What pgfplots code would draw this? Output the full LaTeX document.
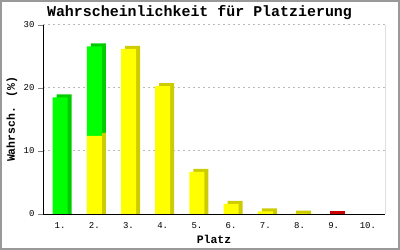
\documentclass[border=0pt]{standalone}
\usepackage{pgfplots}
\pgfplotsset{compat=1.18}
\usepackage{pgfplotstable}
\usepackage{fontspec}
\setmainfont{Liberation Mono}
\definecolor{gfront}{HTML}{00FF00}
\definecolor{gside}{HTML}{00CC00}
\definecolor{yfront}{HTML}{FFFF00}
\definecolor{yside}{HTML}{CCCC00}
\definecolor{rfront}{HTML}{FF0000}
\definecolor{rside}{HTML}{CC0000}
\definecolor{frame}{HTML}{999999}
\definecolor{gridc}{HTML}{BBBBBB}
% green: total height of bars whose top part is green
\pgfplotstableread{
x v
1 18.5
2 26.6
}\greentab
% yellow part
\pgfplotstableread{
x v
2 12.4
3 26.2
4 20.3
5 6.7
6 1.6
7 0.4
8 0.05
}\yellowtab
\pgfplotstableread{
x v
9 0.05
}\redtab
\begin{document}
\begin{tikzpicture}
\begin{axis}[
  scale only axis, width=342bp, height=189bp,
  xmin=0.5, xmax=10.5, ymin=0, ymax=30,
  ybar, bar width=15bp,
  axis lines=left, axis line style={-, line width=0.8bp},
  xtick={1,...,10},
  xticklabels={1.,2.,3.,4.,5.,6.,7.,8.,9.,10.},
  ytick={0,10,20,30},
  tick align=outside, major tick length=5bp,
  xtick style={draw=none},
  ytick style={line width=0.8bp},
  ymajorgrids, grid style={dash pattern=on 2bp off 3bp, color=gridc, line width=1bp},
  /pgf/number format/assume math mode=true,
  ticklabel style={font=\fontsize{9}{9}\selectfont},
  xlabel={Platz},
  xlabel style={font=\bfseries\fontsize{11.5}{11.5}\selectfont, at={(axis description cs:0.5,-0.1323)}, anchor=center},
  ylabel={Wahrsch. (\%)},
  ylabel style={font=\bfseries\fontsize{11.5}{11.5}\selectfont, at={(axis description cs:-0.0906,0.5)}, anchor=center, rotate=0},
]
% side/top faces (shifted back)
\addplot[fill=gside, draw=none, bar shift=4bp] table[x=x, y expr=\thisrow{v}+0.476] {\greentab};
\addplot[fill=yside, draw=none, bar shift=4bp] table[x=x, y expr=\thisrow{v}+0.476] {\yellowtab};
\addplot[fill=rside, draw=none, bar shift=4bp] table[x=x, y expr=\thisrow{v}+0.476] {\redtab};
% front faces
\addplot[fill=gfront, draw=none, bar shift=0bp] table[x=x, y=v] {\greentab};
\addplot[fill=yfront, draw=none, bar shift=0bp] table[x=x, y=v] {\yellowtab};
\addplot[fill=rfront, draw=none, bar shift=0bp] table[x=x, y=v] {\redtab};
\draw[black, line width=0.8bp] (rel axis cs:1,0) -- (rel axis cs:1,1);
\end{axis}
\node[font=\bfseries\fontsize{15}{15}\selectfont, anchor=center] at (156.5bp,201bp) {Wahrscheinlichkeit für Platzierung};
\pgfresetboundingbox
\draw[frame, line width=2bp] (-42bp,-35bp) rectangle (356bp,213bp);
\useasboundingbox (-43bp,-36bp) rectangle (357bp,214bp);
\end{tikzpicture}
\end{document}
